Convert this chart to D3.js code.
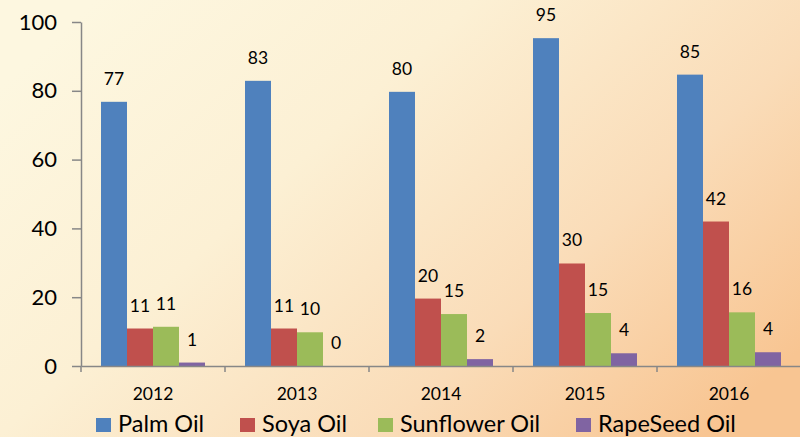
<!DOCTYPE html>
<html>
<head>
<meta charset="utf-8">
<script src="https://cdn.jsdelivr.net/npm/d3@7"></script>
<style>
	body { margin: 0; }
	svg { display: block; font-family: Lato, "Noto Sans", sans-serif; }
</style>
</head>
<body>
<svg></svg>
<script>
const years = ["2012", "2013", "2014", "2015", "2016"];
const seriesNames = ["Palm Oil", "Soya Oil", "Sunflower Oil", "RapeSeed Oil"];
const palmOil = [76.8, 82.9, 79.7, 95.3, 84.7];
const soyaOil = [10.9, 10.9, 19.6, 29.8, 42];
const sunflowerOil = [11.4, 9.8, 15.1, 15.4, 15.6];
const rapeSeedOil = [1, 0, 2, 3.7, 4];
const yTicks = [0, 20, 40, 60, 80, 100];
const colors = ["#4f81bd", "#c0504d", "#9bbb59", "#8064a2"];

const svgWidth = 800;
const svgHeight = 437;
const svg = d3.select("svg")
				.attr("width", svgWidth)
				.attr("height", svgHeight);

const table = years.map((y, i) => ({
	year: y,
	values: [palmOil[i], soyaOil[i], sunflowerOil[i], rapeSeedOil[i]]
}));

// Background gradient
const grad = svg.append("defs")
	.append("linearGradient")
		.attr("id", "bg")
		.attr("x1", 0).attr("y1", 0.2)
		.attr("x2", 1).attr("y2", 0.8);
grad.append("stop").attr("offset", 0).attr("stop-color", "#fdf7e0");
grad.append("stop").attr("offset", 0.35).attr("stop-color", "#fcf0d4");
grad.append("stop").attr("offset", 0.7).attr("stop-color", "#fadcb8");
grad.append("stop").attr("offset", 1).attr("stop-color", "#f8c592");

svg.append("rect")
	.attr("width", svgWidth)
	.attr("height", svgHeight)
	.attr("fill", "url(#bg)");

let xScale = d3.scaleBand()
				.domain(years)
				.range([81, 801]);
let seriesScale = d3.scaleBand()
				.domain(d3.range(seriesNames.length))
				.range([20, xScale.bandwidth() - 20]);
let yScale = d3.scaleLinear()
				.domain([0, 100])
				.range([366, 22]);

// Y axis
let yAxis = d3.axisLeft(yScale)
				.tickValues(yTicks)
				.tickSize(9)
				.tickPadding(15)
				.tickSizeOuter(0);
const gy = svg.append("g")
	.attr("transform", "translate(81, 0)")
	.call(yAxis);
gy.select(".domain").attr("stroke", "#878787").attr("stroke-width", 1.5);
gy.selectAll(".tick line").attr("stroke", "#878787").attr("stroke-width", 1.5);
gy.selectAll(".tick text")
	.attr("font-size", "22px")
	.attr("font-family", "Lato, sans-serif")
	.attr("fill", "#000");

// Bars
const groups = svg.selectAll(".year")
	.data(table)
	.enter()
	.append("g")
		.attr("transform", d => `translate(${xScale(d.year)}, 0)`);

groups.selectAll("rect")
	.data(d => d.values)
	.enter()
	.append("rect")
		.attr("x", (d, i) => seriesScale(i))
		.attr("y", d => yScale(d))
		.attr("width", seriesScale.bandwidth())
		.attr("height", d => yScale(0) - yScale(d))
		.attr("fill", (d, i) => colors[i]);

// Value labels
groups.selectAll("text")
	.data(d => d.values)
	.enter()
	.append("text")
		.text(d => d3.format(".0f")(d))
		.attr("x", (d, i) => seriesScale(i) + seriesScale.bandwidth() / 2)
		.attr("y", d => yScale(d) - 17)
		.attr("text-anchor", "middle")
		.attr("font-size", "17.5px")
		.attr("fill", "#000");

// X axis
let xAxis = d3.axisBottom(xScale)
				.tickSize(0)
				.tickPadding(22)
				.tickSizeOuter(0);
const gx = svg.append("g")
	.attr("transform", "translate(0, 366)")
	.call(xAxis);
gx.select(".domain").attr("stroke", "#878787").attr("stroke-width", 1.5);
gx.selectAll(".tick text")
	.attr("font-size", "17.5px")
	.attr("font-family", "Lato, sans-serif")
	.attr("fill", "#000");
gx.selectAll(".boundary")
	.data(years.concat(["end"]))
	.enter()
	.append("line")
		.attr("x1", (d, i) => 81 + i * xScale.bandwidth())
		.attr("x2", (d, i) => 81 + i * xScale.bandwidth())
		.attr("y1", 0)
		.attr("y2", 6)
		.attr("stroke", "#878787")
		.attr("stroke-width", 1.5);

// Legend
const legendX = [96, 240, 378, 576];
const legend = svg.selectAll(".legend")
	.data(seriesNames)
	.enter()
	.append("g")
		.attr("transform", (d, i) => `translate(${legendX[i]}, 418)`);
legend.append("rect")
	.attr("width", 15)
	.attr("height", 14)
	.attr("fill", (d, i) => colors[i]);
legend.append("text")
	.text(d => d)
	.attr("x", 22)
	.attr("y", 14)
	.attr("font-size", "23.5px")
	.attr("fill", "#000");
</script>
</body>
</html>
